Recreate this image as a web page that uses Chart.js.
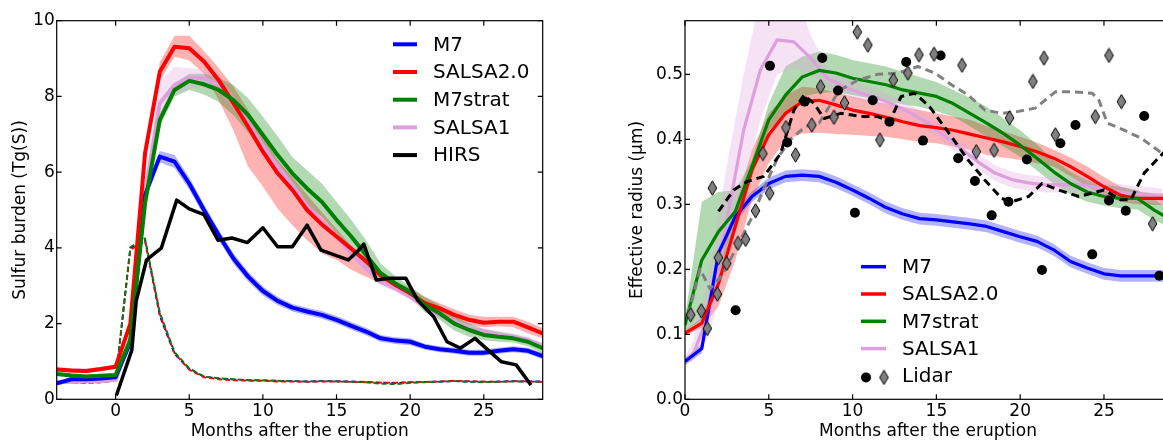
<!DOCTYPE html>
<html>
<head>
<meta charset="utf-8">
<script src="https://cdn.jsdelivr.net/npm/chart.js@4/dist/chart.umd.min.js"></script>
<style>
  html, body { margin: 0; padding: 0; background: #fff; }
  body { width: 1163px; height: 442px; overflow: hidden; position: relative; }
  #burden { position: absolute; left: 0; top: 0; }
  #radius { position: absolute; left: 600px; top: 0; }
</style>
</head>
<body>
<canvas id="burden" width="560" height="442"></canvas>
<canvas id="radius" width="600" height="442"></canvas>
<script>
// ---- left panel: sulfur burden, Tg(S) ----
const leftMonths = [-4,-3,-2,-1,0,1,2,3,4,5,6,7,8,9,10,11,12,13,14,15,16,17,18,19,20,21,22,23,24,25,26,27,28,29];

const m7Burden   = [0.42,0.53,0.53,0.55,0.58, 1.5,5.4,6.41,6.28,5.7, 5.0,4.34,3.72,3.24,2.86, 2.6,2.42,2.32,2.23,2.1, 1.94,1.79,1.61,1.55,1.52, 1.39,1.32,1.28,1.23,1.23, 1.28,1.32,1.28,1.14];
const m7BurdenHi = [0.47,0.58,0.58,0.6,0.63, 1.6,5.55,6.56,6.45,5.86, 5.15,4.48,3.86,3.37,2.98, 2.71,2.52,2.42,2.33,2.2, 2.04,1.89,1.7,1.64,1.61, 1.47,1.4,1.36,1.31,1.31, 1.36,1.4,1.36,1.22];
const m7BurdenLo = [0.37,0.48,0.48,0.5,0.53, 1.4,5.25,6.26,6.11,5.54, 4.85,4.2,3.58,3.11,2.74, 2.49,2.32,2.22,2.13,2.0, 1.84,1.69,1.52,1.46,1.43, 1.31,1.24,1.2,1.15,1.15, 1.2,1.24,1.2,1.06];

const salsa2Burden   = [0.79,0.76,0.75,0.8,0.86, 2.0,6.5,8.65,9.31,9.27, 8.92,8.43,7.82,7.2,6.54, 5.97,5.53,5.0,4.62,4.3, 3.98,3.65,3.28,3.02,2.8, 2.54,2.4,2.23,2.1,2.02, 2.05,2.05,1.9,1.74];
const salsa2BurdenHi = [0.85,0.82,0.81,0.86,0.92, 2.1,6.7,8.9,9.6,9.6, 9.2,8.75,8.26,7.64,6.94, 6.32,5.88,5.4,4.95,4.5, 4.05,3.7,3.35,3.1,2.93, 2.7,2.54,2.38,2.23,2.18, 2.18,2.18,2.05,1.88];
const salsa2BurdenLo = [0.73,0.7,0.69,0.74,0.8, 1.9,6.3,8.4,9.05,8.95, 8.6,7.9,7.1,6.14,5.62, 5.04,4.6,4.2,3.86,3.68, 3.42,3.24,3.06,2.88,2.67, 2.4,2.27,2.1,1.96,1.9, 1.93,1.9,1.74,1.61];

const stratBurden   = [0.67,0.63,0.6,0.62,0.64, 1.57,5.18,7.38,8.17,8.41, 8.32,8.17,7.9,7.51,6.98, 6.45,5.97,5.57,5.22,4.74, 4.3,3.81,3.33,3.06,2.84, 2.49,2.27,2.0,1.83,1.7, 1.65,1.61,1.52,1.35];
const stratBurdenHi = [0.72,0.68,0.65,0.67,0.69, 1.65,5.4,7.55,8.35,8.6, 8.6,8.5,8.3,7.95,7.46, 6.95,6.4,6.05,5.7,5.22, 4.74,4.2,3.59,3.25,2.98, 2.7,2.49,2.2,2.0,1.85, 1.79,1.72,1.62,1.48];
const stratBurdenLo = [0.62,0.58,0.55,0.57,0.59, 1.5,5.0,7.2,8.0,8.17, 8.05,7.85,7.5,7.05,6.5, 5.95,5.5,5.1,4.82,4.38, 3.94,3.55,3.1,2.88,2.71, 2.3,2.1,1.82,1.65,1.56, 1.52,1.5,1.4,1.21];

const salsa1Burden   = [0.46,0.46,0.47,0.48,0.51, 1.6,5.44,7.82,8.3,8.5, 8.48,8.3,7.86,7.29,6.67, 6.14,5.66,5.09,4.7,4.3, 3.86,3.46,3.1,2.93,2.71, 2.45,2.23,2.05,1.88,1.79, 1.7,1.65,1.57,1.39];
const salsa1BurdenHi = [0.5,0.5,0.51,0.52,0.55, 1.7,5.7,8.4,8.78,8.75, 8.7,8.5,8.05,7.45,6.82, 6.28,5.8,5.22,4.82,4.42, 3.97,3.56,3.2,3.02,2.8, 2.54,2.32,2.14,1.97,1.88, 1.79,1.74,1.66,1.48];
const salsa1BurdenLo = [0.42,0.42,0.43,0.44,0.47, 1.5,5.2,7.5,8.04,8.2, 8.25,8.1,7.68,7.13,6.52, 6.0,5.52,4.96,4.58,4.18, 3.75,3.36,3.0,2.84,2.62, 2.36,2.14,1.96,1.79,1.7, 1.61,1.56,1.48,1.3];

// SO2 (dashed)
const m7SO2     = [0.42,0.43,0.43,0.45,0.5, 4.0,4.2,2.2,1.2,0.8, 0.6,0.55,0.52,0.5,0.5, 0.49,0.48,0.47,0.48,0.48, 0.47,0.46,0.44,0.43,0.45, 0.46,0.47,0.48,0.47,0.46, 0.47,0.48,0.47,0.47];
const salsa2SO2 = [0.43,0.44,0.44,0.46,0.5, 3.95,4.18,2.25,1.22,0.78, 0.58,0.53,0.5,0.49,0.49, 0.47,0.47,0.46,0.47,0.47, 0.46,0.45,0.44,0.44,0.45, 0.46,0.47,0.49,0.48,0.47, 0.46,0.48,0.47,0.46];
const stratSO2  = [0.44,0.44,0.45,0.46,0.52, 4.02,4.25,2.3,1.25,0.82, 0.6,0.56,0.53,0.51,0.5, 0.49,0.48,0.47,0.48,0.47, 0.46,0.45,0.41,0.4,0.43, 0.45,0.46,0.48,0.46,0.45, 0.46,0.47,0.47,0.46];

const hirsMonths = [0.05,1.1,1.4,2.1,3.1,4.15,5.0,6.0,6.95,7.9,8.95,10.0,11.0,12.0,13.0,13.95,15.8,16.5,16.85,17.7,18.6,19.7,20.5,21.6,22.5,23.4,24.4,26.2,27.2,28.2];
const hirsBurden = [0.1,1.3,2.6,3.68,3.99,5.26,5.03,4.88,4.2,4.26,4.14,4.53,4.03,4.03,4.6,3.94,3.68,3.94,4.1,3.15,3.2,3.2,2.62,2.18,1.52,1.35,1.61,0.99,0.91,0.38];

const burdenTicksX = [0, 5, 10, 15, 20, 25];
const burdenTicksY = [0, 2, 4, 6, 8, 10];

// ---- right panel: effective radius, um ----
const rightMonths = [0,1,2,3,4,5,6,7,8,9,10,11,12,13,14,15,16,17,18,19,20,21,22,23,24,25,26,27,28,29];

const m7Radius   = [0.058,0.078,0.225,0.281,0.312,0.332,0.343,0.345,0.343,0.334,0.322,0.309,0.295,0.285,0.278,0.276,0.273,0.27,0.266,0.258,0.25,0.243,0.23,0.212,0.202,0.193,0.19,0.19,0.19,0.19];
const m7RadiusHi = [0.064,0.085,0.233,0.289,0.32,0.341,0.352,0.354,0.352,0.343,0.331,0.318,0.304,0.294,0.287,0.285,0.282,0.279,0.275,0.267,0.259,0.252,0.239,0.221,0.211,0.202,0.199,0.199,0.199,0.199];
const m7RadiusLo = [0.052,0.071,0.217,0.273,0.304,0.323,0.334,0.336,0.334,0.325,0.313,0.3,0.286,0.276,0.269,0.267,0.264,0.261,0.257,0.249,0.241,0.234,0.221,0.203,0.193,0.184,0.181,0.181,0.181,0.181];

const salsa2Radius   = [0.102,0.117,0.178,0.266,0.353,0.407,0.44,0.458,0.46,0.453,0.445,0.44,0.434,0.427,0.421,0.418,0.414,0.408,0.402,0.396,0.389,0.381,0.371,0.358,0.343,0.327,0.314,0.309,0.309,0.309];
const salsa2RadiusHi = [0.106,0.125,0.2,0.296,0.384,0.44,0.468,0.481,0.478,0.472,0.466,0.46,0.455,0.45,0.445,0.44,0.435,0.43,0.42,0.412,0.404,0.395,0.384,0.372,0.358,0.342,0.327,0.32,0.317,0.317];
const salsa2RadiusLo = [0.098,0.11,0.143,0.214,0.307,0.363,0.399,0.409,0.41,0.408,0.407,0.405,0.404,0.4,0.396,0.394,0.389,0.384,0.376,0.372,0.368,0.363,0.358,0.343,0.327,0.315,0.304,0.3,0.299,0.299];

const stratRadius   = [0.114,0.214,0.258,0.289,0.358,0.43,0.468,0.496,0.506,0.502,0.494,0.489,0.484,0.476,0.471,0.466,0.455,0.44,0.425,0.409,0.391,0.371,0.35,0.332,0.319,0.312,0.309,0.309,0.291,0.276];
const stratRadiusHi = [0.125,0.304,0.319,0.322,0.368,0.455,0.512,0.527,0.535,0.53,0.522,0.517,0.512,0.504,0.496,0.488,0.476,0.464,0.45,0.432,0.414,0.392,0.368,0.35,0.337,0.33,0.327,0.322,0.307,0.291];
const stratRadiusLo = [0.105,0.122,0.184,0.255,0.343,0.414,0.437,0.466,0.471,0.473,0.468,0.463,0.458,0.454,0.45,0.443,0.435,0.42,0.404,0.389,0.373,0.352,0.332,0.315,0.304,0.298,0.294,0.292,0.276,0.263];

const salsa1Months   = [0,0.5,1.5,2.5,3.5,4.5,5.5,6.5,7.5,8.5,9.5,10.5,11.5,12.5,13.5,14.5,15.5,16.5,17.5,18.5,19.5,20.5,21.5,22.5,23.5,24.5,25.5,26.5,27.5,28.5];
const salsa1Radius   = [0.06,0.07,0.137,0.276,0.414,0.507,0.553,0.55,0.525,0.494,0.481,0.471,0.463,0.453,0.44,0.425,0.405,0.385,0.365,0.348,0.338,0.333,0.33,0.33,0.33,0.326,0.321,0.317,0.315,0.312];
const salsa1RadiusHi = [0.065,0.09,0.2,0.36,0.5,0.62,0.64,0.63,0.56,0.51,0.495,0.483,0.475,0.465,0.452,0.437,0.417,0.397,0.377,0.36,0.35,0.345,0.342,0.342,0.342,0.338,0.333,0.329,0.327,0.324];
const salsa1RadiusLo = [0.055,0.06,0.1,0.22,0.33,0.43,0.5,0.51,0.5,0.48,0.468,0.459,0.451,0.441,0.428,0.413,0.393,0.373,0.353,0.336,0.326,0.321,0.318,0.318,0.318,0.314,0.309,0.305,0.303,0.3];

const lidarDotMonths = [3.02,5.07,6.1,7.14,8.19,9.13,10.14,11.2,12.2,13.2,14.2,15.25,16.3,17.3,18.3,19.3,20.4,21.3,22.4,23.3,24.3,25.3,26.3,27.4,28.3];
const lidarDotRadius = [0.137,0.513,0.395,0.458,0.525,0.475,0.287,0.46,0.427,0.519,0.398,0.529,0.371,0.336,0.283,0.304,0.369,0.199,0.394,0.422,0.223,0.306,0.29,0.436,0.19];

const lidarDiamondMonths = [0.34,0.97,1.33,1.63,1.93,1.99,2.49,3.16,3.62,4.21,4.65,5.05,6.02,6.6,7.57,8.09,8.89,9.52,10.28,10.91,11.63,12.43,13.3,13.96,14.86,16.53,17.38,18.44,19.37,20.76,21.42,22.1,24.48,25.3,26.04,27.9];
const lidarDiamondRadius = [0.13,0.136,0.109,0.325,0.162,0.218,0.209,0.24,0.246,0.29,0.378,0.317,0.418,0.376,0.422,0.481,0.434,0.456,0.565,0.545,0.399,0.491,0.502,0.53,0.531,0.514,0.381,0.383,0.433,0.489,0.525,0.407,0.435,0.529,0.458,0.27];

const lidarDotFitMonths = [2.0,2.9,3.7,4.7,5.7,6.5,7.1,7.7,8.3,9.3,10.5,11.5,12.2,12.9,13.7,14.6,15.9,16.9,17.9,18.9,19.5,20.5,21.3,22.3,23.5,25.0,26.0,26.6,27.4,28.5,29];
const lidarDotFitRadius = [0.289,0.322,0.335,0.343,0.378,0.445,0.468,0.455,0.432,0.44,0.435,0.435,0.427,0.466,0.471,0.45,0.404,0.368,0.337,0.309,0.304,0.312,0.332,0.322,0.312,0.322,0.307,0.307,0.348,0.378,0.39];

const lidarDiamondFitMonths = [0.2,0.9,1.5,2.2,3.0,4.0,4.8,5.5,6.3,7.2,8.0,8.6,9.2,10.3,11.5,12.7,13.9,14.9,15.9,16.9,17.9,18.9,19.9,20.9,22.1,23.1,24.3,24.7,25.2,26.2,27.2,28.5,29];
const lidarDiamondFitRadius = [0.13,0.2,0.17,0.19,0.23,0.28,0.33,0.37,0.4,0.42,0.425,0.45,0.475,0.491,0.5,0.502,0.512,0.502,0.484,0.468,0.445,0.44,0.443,0.448,0.473,0.473,0.471,0.46,0.425,0.414,0.402,0.378,0.37];

const radiusTicksX = [0, 5, 10, 15, 20, 25];
const radiusTicksY = [0, 0.1, 0.2, 0.3, 0.4, 0.5];

// ---- helpers ----
const BLUE = '#0000ff', RED = '#ff0000', GREEN = '#008000', PLUM = '#dda0dd', BLACK = '#000000', GREY = '#808080';
const FONT = 'DejaVu Sans';

function pts(xs, ys) {
    return xs.map((x, i) => ({ x: x, y: ys[i] }));
}

function fade(hex, a) {
    const n = parseInt(hex.slice(1), 16);
    return `rgba(${(n >> 16) & 255}, ${(n >> 8) & 255}, ${n & 255}, ${a})`;
}

// band = two datasets, the upper one filled down to the lower one
function band(xs, lo, hi, color) {
    return [
        { data: pts(xs, lo), borderWidth: 0, pointRadius: 0, fill: false },
        { data: pts(xs, hi), borderWidth: 0, pointRadius: 0, fill: '-1', backgroundColor: fade(color, 0.3) }
    ];
}

function line(xs, ys, color, width, dash) {
    return {
        data: pts(xs, ys), borderColor: color, borderWidth: width, pointRadius: 0,
        borderDash: dash || [], borderJoinStyle: 'round', fill: false
    };
}

function diamondImage() {
    const c = document.createElement('canvas');
    c.width = 11; c.height = 16;
    const g = c.getContext('2d');
    g.beginPath();
    g.moveTo(5.5, 0.8); g.lineTo(9.8, 8); g.lineTo(5.5, 15.2); g.lineTo(1.2, 8); g.closePath();
    g.fillStyle = GREY; g.fill();
    g.lineWidth = 1; g.strokeStyle = BLACK; g.stroke();
    return c;
}
const diamond = diamondImage();

// draw order: first in list is drawn first (underneath)
function ordered(list) {
    list.forEach((d, i) => { d.order = list.length - i; });
    return list;
}

// matplotlib-like box with inward ticks on all sides
const framePlugin = {
    id: 'frame',
    afterDraw(chart) {
        const { ctx, chartArea: a, scales: { x, y } } = chart;
        ctx.save();
        ctx.strokeStyle = BLACK;
        ctx.lineWidth = 1.2;
        ctx.strokeRect(a.left, a.top, a.right - a.left, a.bottom - a.top);
        ctx.beginPath();
        x.ticks.forEach(t => {
            const px = x.getPixelForValue(t.value);
            ctx.moveTo(px, a.bottom); ctx.lineTo(px, a.bottom - 5);
            ctx.moveTo(px, a.top); ctx.lineTo(px, a.top + 5);
        });
        y.ticks.forEach(t => {
            const py = y.getPixelForValue(t.value);
            ctx.moveTo(a.left, py); ctx.lineTo(a.left + 5, py);
            ctx.moveTo(a.right, py); ctx.lineTo(a.right - 5, py);
        });
        ctx.stroke();
        ctx.restore();
    }
};

// legend placed inside the axes, no frame
const boxLegendPlugin = {
    id: 'boxLegend',
    afterDraw(chart, args, opts) {
        if (!opts.items) return;
        const ctx = chart.ctx;
        ctx.save();
        ctx.font = `20px "${FONT}"`;
        ctx.textBaseline = 'middle';
        ctx.fillStyle = BLACK;
        opts.items.forEach((it, i) => {
            const yy = opts.top + i * opts.gap;
            if (it.markers) {
                ctx.beginPath();
                ctx.arc(opts.x0 + 5, yy + 1.5, 5, 0, Math.PI * 2);
                ctx.fillStyle = BLACK; ctx.fill();
                ctx.drawImage(diamond, opts.x0 + 23 - 5.5, yy + 1.5 - 8);
            } else {
                ctx.beginPath();
                ctx.moveTo(opts.x0, yy); ctx.lineTo(opts.x1, yy);
                ctx.strokeStyle = it.color; ctx.lineWidth = it.width;
                ctx.stroke();
            }
            ctx.fillStyle = BLACK;
            ctx.fillText(it.label, opts.tx, yy + 1);
        });
        ctx.restore();
    }
};

function axes(xMin, xMax, yMin, yMax, xTicks, yTicks, yTitle, yTitlePad, yWidth, yFmt) {
    return {
        x: {
            type: 'linear', min: xMin, max: xMax,
            afterBuildTicks: s => { s.ticks = xTicks.map(v => ({ value: v })); },
            afterFit: s => { s.height = 42.7; },
            grid: { display: false, drawTicks: false },
            border: { display: false },
            ticks: { color: BLACK, font: { family: FONT, size: 17 }, padding: 2, maxRotation: 0 },
            title: { display: true, text: 'Months after the eruption', color: BLACK,
                     font: { family: FONT, size: 17 }, padding: { top: 0, bottom: 0 } }
        },
        y: {
            type: 'linear', min: yMin, max: yMax,
            afterBuildTicks: s => { s.ticks = yTicks.map(v => ({ value: v })); },
            afterFit: s => { s.width = yWidth; },
            grid: { display: false, drawTicks: false },
            border: { display: false },
            ticks: { color: BLACK, font: { family: FONT, size: 17 }, padding: 2, callback: yFmt },
            title: { display: true, text: yTitle, color: BLACK,
                     font: { family: FONT, size: 17 }, padding: { top: yTitlePad, bottom: 0 } }
        }
    };
}

Chart.defaults.font.family = FONT;

// ---- left chart ----
const burdenSets = ordered([
    ...band(leftMonths, m7BurdenLo, m7BurdenHi, BLUE),
    ...band(leftMonths, salsa2BurdenLo, salsa2BurdenHi, RED),
    ...band(leftMonths, stratBurdenLo, stratBurdenHi, GREEN),
    ...band(leftMonths, salsa1BurdenLo, salsa1BurdenHi, PLUM),
    line(leftMonths, m7SO2, BLUE, 1.8, [5, 3]),
    line(leftMonths, salsa2SO2, RED, 1.8, [5, 3]),
    line(leftMonths, stratSO2, GREEN, 1.8, [5, 3]),
    line(leftMonths, salsa1Burden, PLUM, 4),
    line(leftMonths, m7Burden, BLUE, 4),
    line(leftMonths, salsa2Burden, RED, 4),
    line(leftMonths, stratBurden, GREEN, 4),
    line(hirsMonths, hirsBurden, BLACK, 3.5)
]);

new Chart(document.getElementById('burden'), {
    type: 'line',
    data: { datasets: burdenSets },
    options: {
        responsive: false,
        animation: false,
        layout: { padding: { left: 0, top: 20.7, right: 17.3, bottom: 0 } },
        scales: axes(-4, 29, 0, 10, burdenTicksX, burdenTicksY, 'Sulfur burden (Tg(S))', 10, 56.7, v => String(v)),
        plugins: {
            legend: { display: false },
            tooltip: { enabled: false },
            boxLegend: {
                x0: 393, x1: 417, tx: 433, top: 44.3, gap: 27.7,
                items: [
                    { label: 'M7', color: BLUE, width: 4 },
                    { label: 'SALSA2.0', color: RED, width: 4 },
                    { label: 'M7strat', color: GREEN, width: 4 },
                    { label: 'SALSA1', color: PLUM, width: 4 },
                    { label: 'HIRS', color: BLACK, width: 4 }
                ]
            }
        }
    },
    plugins: [framePlugin, boxLegendPlugin]
});

// ---- right chart ----
const radiusSets = ordered([
    ...band(rightMonths, m7RadiusLo, m7RadiusHi, BLUE),
    ...band(rightMonths, salsa2RadiusLo, salsa2RadiusHi, RED),
    ...band(rightMonths, stratRadiusLo, stratRadiusHi, GREEN),
    ...band(salsa1Months, salsa1RadiusLo, salsa1RadiusHi, PLUM),
    line(salsa1Months, salsa1Radius, PLUM, 3.2),
    line(rightMonths, m7Radius, BLUE, 3.2),
    line(rightMonths, salsa2Radius, RED, 3.2),
    line(rightMonths, stratRadius, GREEN, 3.2),
    line(lidarDiamondFitMonths, lidarDiamondFitRadius, GREY, 3, [8, 5]),
    line(lidarDotFitMonths, lidarDotFitRadius, BLACK, 3, [8, 5]),
    { type: 'scatter', data: pts(lidarDotMonths, lidarDotRadius), showLine: false,
      pointStyle: 'circle', pointRadius: 5, pointBackgroundColor: BLACK, pointBorderColor: BLACK, pointBorderWidth: 0 },
    { type: 'scatter', data: pts(lidarDiamondMonths, lidarDiamondRadius), showLine: false,
      pointStyle: diamond, pointRadius: 6 }
]);

new Chart(document.getElementById('radius'), {
    type: 'line',
    data: { datasets: radiusSets },
    options: {
        responsive: false,
        animation: false,
        layout: { padding: { left: 0, top: 20.7, right: 29, bottom: 0 } },
        scales: axes(0, 29, 0, 0.5825, radiusTicksX, radiusTicksY, 'Effective radius (µm)', 27.5, 85, v => v.toFixed(1)),
        plugins: {
            legend: { display: false },
            tooltip: { enabled: false },
            boxLegend: {
                x0: 261, x1: 286, tx: 302, top: 266.7, gap: 27.3,
                items: [
                    { label: 'M7', color: BLUE, width: 3.5 },
                    { label: 'SALSA2.0', color: RED, width: 3.5 },
                    { label: 'M7strat', color: GREEN, width: 3.5 },
                    { label: 'SALSA1', color: PLUM, width: 3.5 },
                    { label: 'Lidar', markers: true }
                ]
            }
        }
    },
    plugins: [framePlugin, boxLegendPlugin]
});
</script>
</body>
</html>
